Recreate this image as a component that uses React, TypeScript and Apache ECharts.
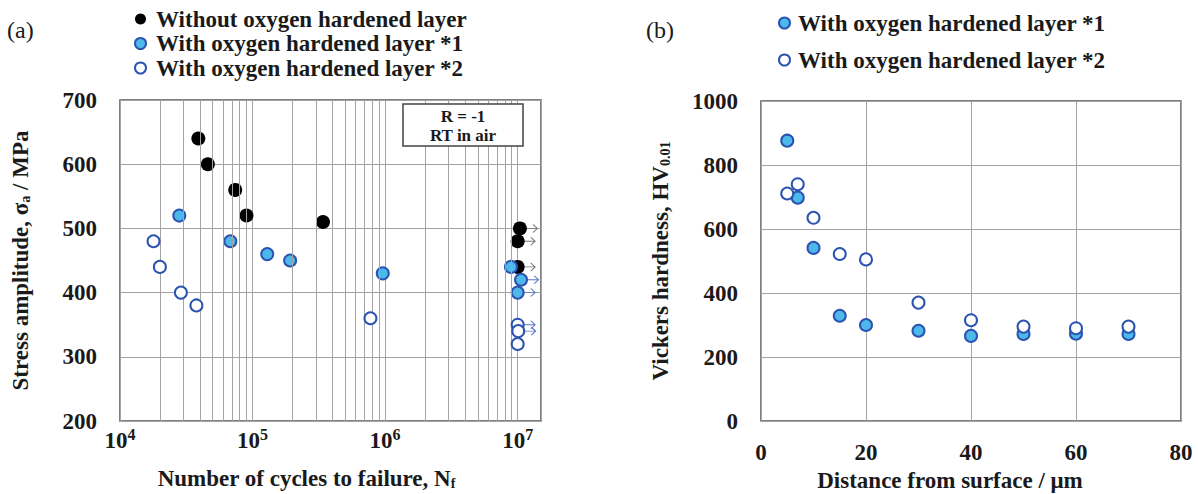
import React, { useEffect, useRef } from "react";
import * as echarts from "echarts";

// ---- Data: (a) S-N diagram ----
const nameWithout = "Without oxygen hardened layer";
const name1 = "With oxygen hardened layer *1";
const name2 = "With oxygen hardened layer *2";

const withoutLayer: number[][] = [
  [3.9e4, 640], [4.6e4, 600], [7.4e4, 560], [9.0e4, 520], [3.4e5, 510],
  [1.04e7, 500], [1.0e7, 480], [1.0e7, 440],
];
const withLayer1: number[][] = [
  [2.8e4, 520], [6.8e4, 480], [1.29e5, 460], [1.92e5, 450], [9.6e5, 430],
  [8.9e6, 440], [1.06e7, 420], [1.0e7, 400],
];
const withLayer2: number[][] = [
  [1.79e4, 480], [2.0e4, 440], [2.88e4, 400], [3.77e4, 380], [7.75e5, 360],
  [1.0e7, 350], [1.01e7, 340], [1.0e7, 320],
];
// run-outs (arrows)
const runoutWithout: number[][] = [[1.04e7, 500], [1.0e7, 480], [1.0e7, 440]];
const runout1: number[][] = [[1.06e7, 420], [1.0e7, 400]];
const runout2: number[][] = [[1.0e7, 350], [1.01e7, 340]];

// ---- Data: (b) hardness profile ----
const depth = [5, 7, 10, 15, 20, 30, 40, 50, 60, 70];
const hv1 = [876, 698, 541, 329, 300, 282, 266, 272, 273, 272];
const hv2 = [711, 740, 635, 522, 505, 370, 315, 295, 290, 295];

// axis ranges
const sMin = 200, sMax = 700, sStep = 100;
const nMin = 1e4, nMax = 1.5e7;
const dMin = 0, dMax = 80, dStep = 20;
const hMin = 0, hMax = 1000, hStep = 200;

const FONT = '"Liberation Serif", "Times New Roman", serif';
const TXT = "#1a1a1a";
const GRIDC = "#a3a3a3";
const BLUE_FILL = "#4db8ea";
const BLUE_EDGE = "#2b53b0";

const minorTicks: number[] = [];
for (let e = 4; e < 7; e++) for (let k = 2; k <= 9; k++) minorTicks.push(k * Math.pow(10, e));

export default function App() {
  const ref = useRef<HTMLDivElement>(null);
  useEffect(() => {
    if (!ref.current) return;
    const chart = echarts.init(ref.current, undefined, { renderer: "svg" });
    const labelStyle = { fontSize: 23, fontWeight: "bold" as const, fontFamily: FONT, color: TXT };
    const nameStyle = (pad: number[]) => ({
      fontSize: 23, fontWeight: "bold" as const, fontFamily: FONT, color: TXT, lineHeight: 24, padding: pad,
      rich: { sub: { fontSize: 14, fontWeight: "bold" as const, fontFamily: FONT, color: TXT, verticalAlign: "bottom" as const } },
    });
    const arrow = "path://M0,4L10,4M6,0L10,4L6,8";
    const symStyle1 = { color: BLUE_FILL, borderColor: BLUE_EDGE, borderWidth: 2, opacity: 1 };
    const symStyle2 = { color: "#ffffff", borderColor: BLUE_EDGE, borderWidth: 2, opacity: 1 };
    const plain = (v: number) => String(v);

    chart.setOption({
      animation: false,
      backgroundColor: "#ffffff",
      grid: [
        { left: 120, top: 100, width: 421, height: 321, show: true, borderColor: "#555", borderWidth: 1.5, backgroundColor: "transparent", outerBoundsMode: "none", containLabel: false },
        { left: 761, top: 101, width: 420, height: 320, show: true, borderColor: "#555", borderWidth: 1.5, backgroundColor: "transparent", outerBoundsMode: "none", containLabel: false },
      ],
      legend: [
        {
          orient: "vertical", left: 134, top: 7, padding: 0, itemGap: 0.5, itemWidth: 11, itemHeight: 11,
          selectedMode: false, data: [nameWithout, name1, name2],
          textStyle: { ...labelStyle, lineHeight: 24, padding: [0, 0, 0, 5] },
        },
        {
          orient: "vertical", left: 778, top: 11, padding: 0, itemGap: 13, itemWidth: 11, itemHeight: 11,
          selectedMode: false, data: [name1, name2],
          textStyle: { ...labelStyle, lineHeight: 24, padding: [0, 0, 0, 3] },
        },
      ],
      xAxis: [
        {
          type: "log", gridIndex: 0, min: nMin, max: nMax, logBase: 10,
          axisLine: { show: false }, axisTick: { show: false },
          splitLine: { show: true, lineStyle: { color: GRIDC, width: 1 } },
          axisLabel: {
            margin: 5, showMaxLabel: false,
            formatter: (v: number) => {
              const e = Math.log10(v);
              const r = Math.round(e);
              if (Math.abs(e - r) > 1e-6) return "";
              return `{b|10}{s|${r}}`;
            },
            rich: {
              b: { ...labelStyle, lineHeight: 26, verticalAlign: "bottom" },
              s: { fontSize: 16, fontWeight: "bold", fontFamily: FONT, color: TXT, verticalAlign: "top", lineHeight: 16 },
            },
          },
          name: "Number of cycles to failure, N{sub|f}", nameLocation: "middle", nameGap: 45,
          nameTextStyle: nameStyle([0, 48, 0, 0]),
        },
        {
          type: "value", gridIndex: 1, min: dMin, max: dMax, interval: dStep,
          axisLine: { show: false }, axisTick: { show: false },
          splitLine: { show: true, lineStyle: { color: GRIDC, width: 1 } },
          axisLabel: { ...labelStyle, margin: 20, formatter: plain },
          name: "Distance from surface / μm", nameLocation: "middle", nameGap: 46,
          nameTextStyle: nameStyle([0, 42, 0, 0]),
        },
      ],
      yAxis: [
        {
          type: "value", gridIndex: 0, min: sMin, max: sMax, interval: sStep,
          axisLine: { show: false }, axisTick: { show: false },
          splitLine: { show: true, lineStyle: { color: GRIDC, width: 1 } },
          axisLabel: { ...labelStyle, margin: 23, formatter: plain },
          name: "Stress amplitude, σ{sub|a} / MPa", nameLocation: "middle", nameGap: 88,
          nameTextStyle: nameStyle([0, 0, 0, 0]),
        },
        {
          type: "value", gridIndex: 1, min: hMin, max: hMax, interval: hStep,
          axisLine: { show: false }, axisTick: { show: false },
          splitLine: { show: true, lineStyle: { color: GRIDC, width: 1 } },
          axisLabel: { ...labelStyle, margin: 23, formatter: plain },
          name: "Vickers hardness, HV{sub|0.01}", nameLocation: "middle", nameGap: 89,
          nameTextStyle: nameStyle([0, 0, 0, 0]),
        },
      ],
      graphic: [
        { type: "text", x: 7, y: 18, style: { text: "(a)", fontSize: 24, fontFamily: FONT, fill: TXT } },
        { type: "text", x: 646, y: 18, style: { text: "(b)", fontSize: 24, fontFamily: FONT, fill: TXT } },
        { type: "rect", shape: { x: 403, y: 104, width: 120, height: 42 }, style: { fill: "#fff", stroke: "#444", lineWidth: 1.5 }, z: 10 },
        { type: "text", x: 463, y: 116, z: 11, style: { text: "R = -1", fontSize: 17, fontWeight: "bold", fontFamily: FONT, fill: TXT, align: "center", verticalAlign: "middle" } },
        { type: "text", x: 463, y: 135, z: 11, style: { text: "RT in air", fontSize: 17, fontWeight: "bold", fontFamily: FONT, fill: TXT, align: "center", verticalAlign: "middle" } },
      ],
      series: [
        {
          name: "minor-grid", type: "line", xAxisIndex: 0, yAxisIndex: 0, data: [], z: 1, silent: true,
          markLine: {
            silent: true, symbol: ["none", "none"], label: { show: false },
            lineStyle: { color: GRIDC, type: "solid", width: 1 },
            data: minorTicks.map((v) => ({ xAxis: v })),
          },
        },
        {
          name: "runout-a", type: "scatter", xAxisIndex: 0, yAxisIndex: 0, data: runoutWithout, z: 2, silent: true,
          symbol: arrow, symbolSize: [11, 8], symbolOffset: [12, 0],
          itemStyle: { color: "none", borderColor: "#777", borderWidth: 1, opacity: 1 },
        },
        {
          name: "runout-b", type: "scatter", xAxisIndex: 0, yAxisIndex: 0, data: [...runout1, ...runout2], z: 2, silent: true,
          symbol: arrow, symbolSize: [11, 8], symbolOffset: [12, 0],
          itemStyle: { color: "none", borderColor: "#5b78c8", borderWidth: 1, opacity: 1 },
        },
        {
          name: nameWithout, type: "scatter", xAxisIndex: 0, yAxisIndex: 0, data: withoutLayer, z: 3,
          symbol: "circle", symbolSize: 14, itemStyle: { color: "#000", borderColor: "#000", borderWidth: 0, opacity: 1 },
        },
        {
          name: name1, type: "scatter", xAxisIndex: 0, yAxisIndex: 0, data: withLayer1, z: 4,
          symbol: "circle", symbolSize: 12, itemStyle: symStyle1,
        },
        {
          name: name2, type: "scatter", xAxisIndex: 0, yAxisIndex: 0, data: withLayer2, z: 5,
          symbol: "circle", symbolSize: 12, itemStyle: symStyle2,
        },
        {
          name: name1, type: "scatter", xAxisIndex: 1, yAxisIndex: 1, z: 4,
          data: depth.map((d, i) => [d, hv1[i]]),
          symbol: "circle", symbolSize: 12, itemStyle: symStyle1,
        },
        {
          name: name2, type: "scatter", xAxisIndex: 1, yAxisIndex: 1, z: 5,
          data: depth.map((d, i) => [d, hv2[i]]),
          symbol: "circle", symbolSize: 12, itemStyle: symStyle2,
        },
      ],
    });
    return () => chart.dispose();
  }, []);
  return <div ref={ref} style={{ position: "fixed", left: 0, top: 0, width: 1198, height: 494, background: "#fff" }} />;
}
